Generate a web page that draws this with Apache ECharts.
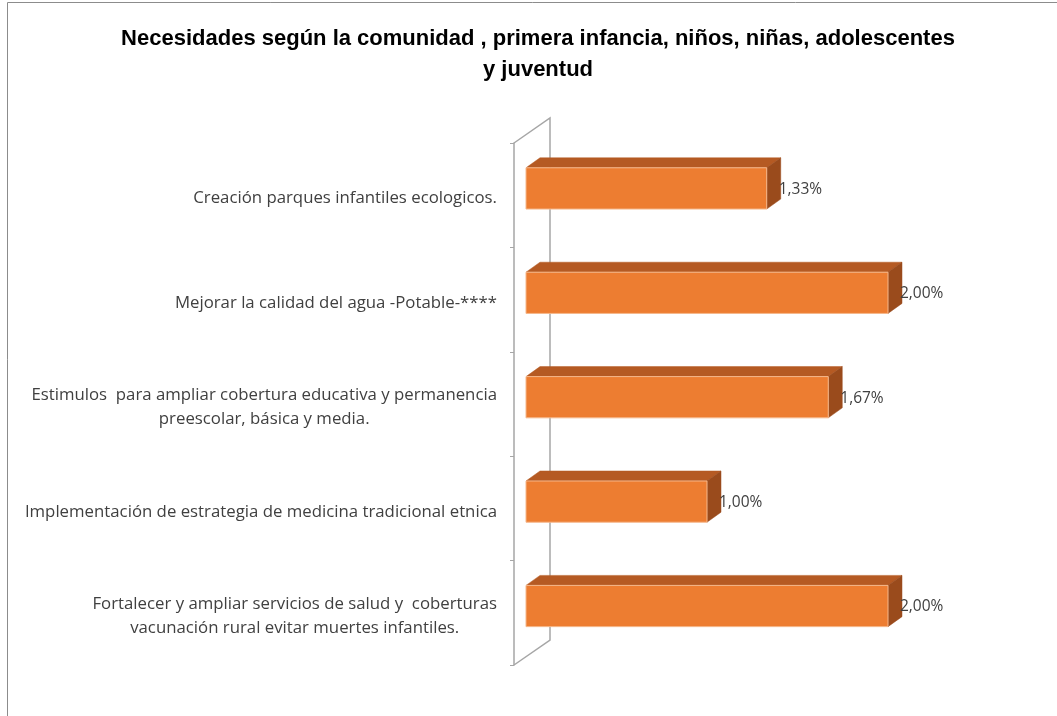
<!DOCTYPE html>
<html>
<head>
<meta charset="utf-8">
<script src="https://cdn.jsdelivr.net/npm/echarts@6/dist/echarts.min.js"></script>
<style>
html,body{margin:0;padding:0;background:#fff;}
#main{width:1057px;height:716px;}
</style>
</head>
<body>
<div id="main"></div>
<script>
var titleText = 'Necesidades según la comunidad , primera infancia, niños, niñas, adolescentes\ny juventud';
var categories = [
  'Creación parques infantiles ecologicos.',
  'Mejorar la calidad del agua -Potable-****',
  'Estimulos  para ampliar cobertura educativa y permanencia\npreescolar, básica y media.',
  'Implementación de estrategia de medicina tradicional etnica',
  'Fortalecer y ampliar servicios de salud y  coberturas\nvacunación rural evitar muertes infantiles.'
];
var values = [1.33, 2.00, 1.67, 1.00, 2.00];

var chart = echarts.init(document.getElementById('main'), null, {renderer: 'canvas'});

var FRONT = '#ED7D31', TOP = '#B55A23', SIDE = '#9A4B1C', EDGE = '#F5B88C';
var WALL = '#A6A6A6';
var DX = 14, DY = -10;
var LABEL_FONT = '"Open Sans", sans-serif';

function fmt(v) { return v.toFixed(2).replace('.', ',') + '%'; }

var option = {
  backgroundColor: '#fff',
  animation: false,
  title: {
    text: titleText,
    left: 533,
    top: 18,
    textAlign: 'center',
    textStyle: {
      fontFamily: '"Liberation Sans", sans-serif',
      fontWeight: 'bold',
      fontSize: 22,
      lineHeight: 31,
      color: '#000'
    }
  },
  graphic: [{
    type: 'rect',
    silent: true,
    shape: {x: 7.5, y: 2.5, width: 1200, height: 900},
    style: {fill: null, stroke: '#8c8c8c', lineWidth: 1}
  }],
  grid: {left: 526, right: 169, top: 143, bottom: 51},
  xAxis: {
    type: 'value', min: 0, max: 2,
    show: false
  },
  yAxis: {
    type: 'category',
    inverse: true,
    data: categories,
    offset: 12,
    axisLine: {show: true, onZero: false, lineStyle: {color: WALL, width: 1.5}},
    axisTick: {show: true, length: 4, lineStyle: {color: WALL, width: 1}},
    splitLine: {show: false},
    axisLabel: {
      margin: 17,
      color: '#404040',
      fontFamily: LABEL_FONT,
      fontSize: 16.8,
      lineHeight: 24,
      padding: [7, 0, 0, 0],
      formatter: function (v) {
        return v.split('\n').map(function (l) { return '{c|' + l + '}'; }).join('\n');
      },
      rich: {
        c: {
          align: 'center',
          color: '#404040',
          fontFamily: LABEL_FONT,
          fontSize: 16.8,
          lineHeight: 24
        }
      }
    }
  },
  series: [
    {
      type: 'custom',
      name: 'wall',
      z: 1,
      clip: false,
      silent: true,
      data: [[0, 0]],
      renderItem: function (params, api) {
        var cs = params.coordSys;
        var fx = cs.x - 12, bx = cs.x + 24;
        var t = cs.y, b = cs.y + cs.height;
        return {
          type: 'polyline',
          shape: {points: [[fx, t], [bx, t - 25], [bx, b - 25], [fx, b]]},
          style: {stroke: WALL, lineWidth: 1.5, fill: null}
        };
      }
    },
    {
      type: 'custom',
      name: 'bars',
      z: 3,
      clip: false,
      encode: {x: 0, y: 1},
      data: values.map(function (v, i) { return [v, i]; }),
      renderItem: function (params, api) {
        var v = api.value(0), i = api.value(1);
        var s = api.coord([0, i]);
        var e = api.coord([v, i]);
        var band = api.size([0, 1])[1];
        var h = band * 0.395;
        var cy = s[1] - band * 0.065;
        var x0 = s[0], x1 = e[0];
        var t = cy - h / 2, b = cy + h / 2;
        return {
          type: 'group',
          children: [
            {
              type: 'polygon',
              shape: {points: [[x0, t], [x0 + DX, t + DY], [x1 + DX, t + DY], [x1, t]]},
              style: {fill: TOP, stroke: TOP, lineWidth: 0.5}
            },
            {
              type: 'polygon',
              shape: {points: [[x1, t], [x1 + DX, t + DY], [x1 + DX, b + DY], [x1, b]]},
              style: {fill: SIDE, stroke: SIDE, lineWidth: 0.5}
            },
            {
              type: 'rect',
              shape: {x: x0, y: t, width: x1 - x0, height: h},
              style: {fill: FRONT, stroke: EDGE, lineWidth: 1}
            },
            {
              type: 'text',
              z2: 10,
              style: {
                x: x1 + 12, y: cy + 1,
                text: fmt(v),
                fill: '#404040',
                font: '15.5px ' + LABEL_FONT,
                textAlign: 'left',
                textVerticalAlign: 'middle'
              }
            }
          ]
        };
      }
    }
  ]
};
chart.setOption(option);
</script>
</body>
</html>
